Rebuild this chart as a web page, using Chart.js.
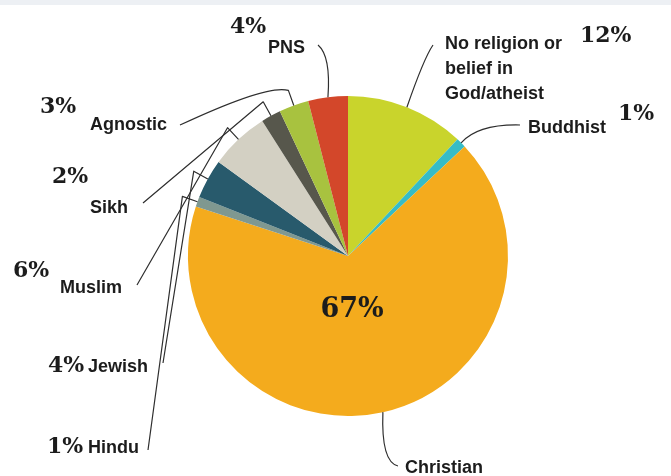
<!DOCTYPE html>
<html>
<head>
<meta charset="utf-8">
<script src="https://cdn.jsdelivr.net/npm/chart.js@4.4.1/dist/chart.umd.min.js"></script>
<style>
  html, body { margin: 0; padding: 0; background: #fff; }
  #wrap { width: 671px; height: 476px; position: relative; }
</style>
</head>
<body>
<div id="wrap"><canvas id="faithChart" width="671" height="476"></canvas></div>
<script>
// Religion shares, clockwise from 12 o'clock
const categories = ['No religion or belief in God/atheist', 'Buddhist', 'Christian', 'Hindu', 'Jewish', 'Muslim', 'Sikh', 'Agnostic', 'PNS'];
const labelLines = [['No religion or', 'belief in', 'God/atheist'], ['Buddhist'], ['Christian'], ['Hindu'], ['Jewish'], ['Muslim'], ['Sikh'], ['Agnostic'], ['PNS']];
const shares = [12, 1, 67, 1, 4, 6, 2, 3, 4];
const sliceColors = ['#c9d42c', '#36bcc6', '#f4ab1d', '#7f9890', '#285a6c', '#d3d0c3', '#57574c', '#a8c23f', '#d3472a'];

// Label placement and leader routing per slice
// kind 'curve': from -> ctrl -> slice edge; 'bracket': from -> corner outside slice -> slice edge
const labelLayout = [
    { text: [445, 49], pct: [580, 42], kind: 'curve', from: [433, 45], ctrl: [424, 58] },
    { text: [528, 133], pct: [618, 120], kind: 'curve', from: [520, 125], ctrl: [478, 124] },
    { text: [405, 473], pct: null, kind: 'curve', from: [398, 466], ctrl: [381, 462] },
    { text: [88, 453], pct: [47, 453], kind: 'bracket', from: [148, 450] },
    { text: [88, 372], pct: [48, 372], kind: 'bracket', from: [163, 363] },
    { text: [60, 293], pct: [13, 277], kind: 'bracket', from: [137, 285] },
    { text: [90, 213], pct: [52, 183], kind: 'bracket', from: [143, 203] },
    { text: [90, 130], pct: [40, 113], kind: 'bracket', from: [180, 125], ctrl: [268, 84] },
    { text: [268, 53], pct: [230, 33], kind: 'curve', from: [318, 45], ctrl: [331, 56] }
];

const labelFont = 'bold 18px "Liberation Sans", Arial, sans-serif';
const pctFont = 'bold 22px "DejaVu Serif", Georgia, serif';

function edgePoint(arc, radius) {
    const mid = (arc.startAngle + arc.endAngle) / 2;
    return [arc.x + Math.cos(mid) * radius, arc.y + Math.sin(mid) * radius];
}

const calloutPlugin = {
    id: 'callouts',
    afterDraw(chart) {
        const ctx = chart.ctx;
        const arcs = chart.getDatasetMeta(0).data;

        ctx.save();
        // thin grey band along the top
        ctx.fillStyle = '#edf0f4';
        ctx.fillRect(0, 0, chart.width, 5);

        // leader lines
        ctx.strokeStyle = '#2e2e2e';
        ctx.lineWidth = 1.2;
        ctx.lineJoin = 'round';
        arcs.forEach((arc, i) => {
            const lay = labelLayout[i];
            const p = arc.getProps(['x', 'y', 'startAngle', 'endAngle', 'outerRadius'], true);
            const edge = edgePoint(p, p.outerRadius);
            ctx.beginPath();
            if (lay.kind === 'bracket') {
                const corner = edgePoint(p, p.outerRadius + 16);
                ctx.moveTo(lay.from[0], lay.from[1]);
                if (lay.ctrl) ctx.quadraticCurveTo(lay.ctrl[0], lay.ctrl[1], corner[0], corner[1]);
                else ctx.lineTo(corner[0], corner[1]);
                ctx.lineTo(edge[0], edge[1]);
            } else {
                ctx.moveTo(lay.from[0], lay.from[1]);
                ctx.quadraticCurveTo(lay.ctrl[0], lay.ctrl[1], edge[0], edge[1]);
            }
            ctx.stroke();
        });

        // category names and shares
        ctx.fillStyle = '#1c1c1c';
        ctx.textAlign = 'left';
        ctx.textBaseline = 'alphabetic';
        labelLayout.forEach((lay, i) => {
            ctx.font = labelFont;
            labelLines[i].forEach((line, k) => {
                ctx.fillText(line, lay.text[0], lay.text[1] + k * 25);
            });
            if (lay.pct) {
                ctx.font = pctFont;
                ctx.fillText(shares[i] + '%', lay.pct[0], lay.pct[1]);
            }
        });

        // majority share written inside its slice
        ctx.font = 'bold 27px "DejaVu Serif", Georgia, serif';
        ctx.textAlign = 'center';
        ctx.fillText(shares[2] + '%', 352, 317);
        ctx.restore();
    }
};

new Chart(document.getElementById('faithChart'), {
    type: 'pie',
    data: {
        labels: categories,
        datasets: [{
            data: shares,
            backgroundColor: sliceColors,
            borderWidth: 0
        }]
    },
    options: {
        responsive: false,
        animation: false,
        layout: {
            padding: { left: 188, top: 96, right: 163, bottom: 60 }
        },
        plugins: {
            legend: { display: false },
            tooltip: { enabled: false }
        }
    },
    plugins: [calloutPlugin]
});
</script>
</body>
</html>
